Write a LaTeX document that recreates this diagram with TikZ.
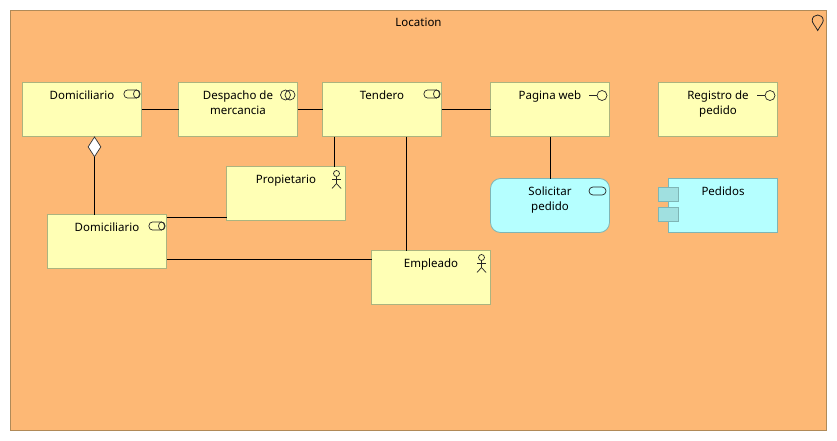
\documentclass[tikz,border=0pt]{standalone}
\usepackage{fontspec}
\setmainfont{Noto Sans}
\usetikzlibrary{shapes.geometric}
\definecolor{locfill}{HTML}{FDB875}
\definecolor{locline}{HTML}{B08A58}
\definecolor{yelfill}{HTML}{FFFFB5}
\definecolor{yelline}{HTML}{ABB47F}
\definecolor{cyanfill}{HTML}{B5FFFF}
\definecolor{cyanline}{HTML}{7FB5B5}
\definecolor{tabfill}{HTML}{A0E0E0}
\tikzset{
  box/.style={draw=yelline,fill=yelfill,line width=0.8pt,minimum width=119pt,minimum height=54pt,inner sep=0pt,outer sep=0pt},
  appbox/.style={box,draw=cyanline,fill=cyanfill},
  tabbox/.style={draw=cyanline,fill=tabfill,line width=0.8pt,minimum width=20pt,minimum height=14pt,inner sep=0pt},
  lbl/.style={anchor=north,align=center,font=\fontsize{11.5}{15}\selectfont,inner sep=0pt,yshift=-8.5pt,text=black},
  conn/.style={draw=black,line width=0.8pt},
  icon/.style={draw=black!85,line width=0.7pt}
}
\newcommand{\roleicon}[1]{%
  \draw[icon,rounded corners=3.5pt] ([shift={(-17.5,7.5)}]#1.north east) rectangle ([shift={(-1.5,15.5)}]#1.north east);
  \draw[icon] ([shift={(-5,11.5)}]#1.north east) ellipse[x radius=3pt,y radius=4pt];
}
\newcommand{\collabicon}[1]{%
  \draw[icon] ([shift={(-12,12.5)}]#1.north east) circle[radius=5pt];
  \draw[icon] ([shift={(-7.5,12.5)}]#1.north east) circle[radius=5pt];
}
\newcommand{\ifaceicon}[1]{%
  \draw[icon] ([shift={(-20.5,13)}]#1.north east) -- ([shift={(-12.5,13)}]#1.north east);
  \draw[icon] ([shift={(-7.5,13)}]#1.north east) circle[radius=5pt];
}
\newcommand{\actoricon}[1]{%
  \draw[icon] ([shift={(-9,7)}]#1.north east) circle[radius=3pt];
  \draw[icon] ([shift={(-9,10)}]#1.north east) -- ([shift={(-9,17)}]#1.north east)
    -- ([shift={(-13.5,22)}]#1.north east);
  \draw[icon] ([shift={(-9,17)}]#1.north east) -- ([shift={(-4.5,22)}]#1.north east);
  \draw[icon] ([shift={(-13.5,12.5)}]#1.north east) -- ([shift={(-4.5,12.5)}]#1.north east);
}
\begin{document}
\begin{tikzpicture}[x=1pt,y=-1pt]
\useasboundingbox (0,0) rectangle (837,441);
\node[draw=locline,fill=locfill,line width=0.8pt,minimum width=816pt,minimum height=420pt,inner sep=0pt] (loc) at (418.5,220.5) {};
\node[lbl,yshift=1pt] (loct) at (loc.north) {Location};
% location pin
\draw[icon,line width=0.8pt] (817.7,30.5) .. controls (815,25.5) and (812.2,23) .. (812.2,20.5)
  .. controls (812.2,17) and (814.7,15) .. (817.7,15)
  .. controls (820.7,15) and (823.2,17) .. (823.2,20.5)
  .. controls (823.2,23) and (820.4,25.5) .. (817.7,30.5) -- cycle;

\node[box] (dom) at (82,109.5) {};
\node[box] (desp) at (238,109.5) {};
\node[box] (tend) at (382,109.5) {};
\node[box] (pag) at (550,109.5) {};
\node[box] (reg) at (718,109.5) {};
\node[box] (prop) at (286,193.5) {};
\node[box] (domb) at (107,241.5) {};
\node[box] (emp) at (431,277.5) {};
\node[appbox,rounded corners=10pt] (sol) at (550,205.5) {};
\node[appbox,minimum width=109pt] (ped) at (723,205.5) {};
\node[tabbox] (taba) at (668.5,194.5) {};
\node[tabbox] (tabb) at (668.5,214.5) {};

\node[lbl] (domt) at (dom.north) {Domiciliario};
\node[lbl] (despt) at (desp.north) {Despacho de\\mercancia};
\node[lbl] (tendt) at (tend.north) {Tendero};
\node[lbl] (pagt) at (pag.north) {Pagina web};
\node[lbl] (regt) at (reg.north) {Registro de\\pedido};
\node[lbl] (propt) at (prop.north) {Propietario};
\node[lbl] (dombt) at (domb.north) {Domiciliario};
\node[lbl] (empt) at (emp.north) {Empleado};
\node[lbl] (solt) at (sol.north) {Solicitar\\pedido};
\node[lbl] (pedt) at (ped.north) {Pedidos};

\roleicon{dom}
\roleicon{tend}
\roleicon{domb}
\collabicon{desp}
\ifaceicon{pag}
\ifaceicon{reg}
\actoricon{prop}
\actoricon{emp}
\draw[icon,rounded corners=3.9pt] ([shift={(-20.5,8.5)}]sol.north east) rectangle ([shift={(-3.5,16.5)}]sol.north east);

\draw[conn] (dom.east) -- (desp.west);
\draw[conn] (desp.east) -- (tend.west);
\draw[conn] (tend.east) -- (pag.west);
\draw[conn] (pag.south) -- (sol.north);
\node[draw=black!80,fill=white,diamond,aspect=0.65,line width=0.7pt,minimum width=13pt,minimum height=20pt,inner sep=0pt,anchor=north] (dia) at ([xshift=12.5pt]dom.south) {};
\draw[conn] (dia.south) -- (dia.south |- domb.north);
\draw[conn] ([xshift=12pt]tend.south west) coordinate (ta) -- (ta |- prop.north);
\draw[conn] ([xshift=24.5pt]tend.south) coordinate (tb) -- (tb |- emp.north);
\draw[conn] ([yshift=-3pt]domb.north east) coordinate (da) -- (da -| prop.west);
\draw[conn] ([yshift=-9pt]emp.north west) coordinate (db) -- (db -| domb.east);
\end{tikzpicture}
\end{document}
